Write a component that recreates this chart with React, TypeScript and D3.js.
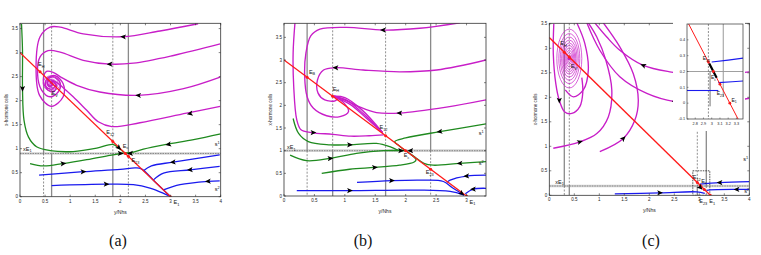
import React from "react";
import * as d3 from "d3";

type Pt = [number, number];
type Arrow = [number, number, number, number];
type Label = { at: Pt; text: string; sub?: string; sup?: string };

// ---------- panel (a) ----------
const aXTicks = [0, 0.5, 1, 1.5, 2, 2.5, 3, 3.5, 4];
const aYTicks = [0, 0.5, 1, 1.5, 2, 2.5, 3, 3.5];
const aMagenta: Pt[][] = [
  [[3.55, 3.6], [2.79, 3.45], [2.06, 3.33], [1.26, 3.39], [0.8, 3.53], [0.6, 3.53], [0.4, 3.33], [0.32, 2.7], [0.39, 2.11], [0.63, 1.88], [0.86, 2.08], [0.86, 2.35], [0.7, 2.52], [0.53, 2.45], [0.53, 2.25], [0.66, 2.18], [0.73, 2.3], [0.66, 2.4], [0.62, 2.36]],
  [[3.99, 3.18], [3.06, 2.94], [2.26, 2.78], [1.79, 2.76], [1.26, 2.84], [0.8, 3.01], [0.56, 3.04], [0.4, 2.91], [0.35, 2.56], [0.43, 2.22], [0.6, 2.08], [0.76, 2.18], [0.8, 2.37], [0.66, 2.5], [0.54, 2.41], [0.58, 2.29], [0.65, 2.33]],
  [[3.99, 2.49], [3.26, 2.25], [2.36, 2.11], [1.59, 2.18], [1.13, 2.32], [0.83, 2.48], [0.66, 2.59], [0.53, 2.61], [0.47, 2.49], [0.5, 2.3], [0.63, 2.24], [0.71, 2.32], [0.65, 2.41], [0.6, 2.36]],
  [[3.99, 1.88], [3.32, 1.74], [2.39, 1.54], [1.83, 1.46], [1.56, 1.56], [1.33, 1.8], [1.06, 2.08], [0.86, 2.27], [0.7, 2.4], [0.6, 2.43], [0.55, 2.36], [0.61, 2.3], [0.66, 2.35]],
];
const aGreen: Pt[][] = [
  [[0.03, 3.6], [0.05, 3.04], [0.05, 2.25], [0.08, 1.59], [0.17, 1.24], [0.33, 1.04], [0.6, 0.96], [1.06, 0.94], [1.53, 1.01], [1.85, 1.09], [1.96, 1.02], [2.08, 0.92]],
  [[4.0, 1.31], [3.46, 1.19], [2.92, 1.09], [2.46, 0.99], [2.23, 0.92], [2.1, 0.91]],
  [[0.2, 0.69], [0.47, 0.64], [0.86, 0.69], [1.33, 0.77], [1.79, 0.86], [2.06, 0.91]],
];
const aBlue: Pt[][] = [
  [[0.38, 0.45], [1.26, 0.52], [2.0, 0.57], [2.3, 0.6], [2.42, 0.58], [2.7, 0.3], [2.98, 0.02]],
  [[3.98, 0.87], [3.05, 0.72], [2.62, 0.64], [2.46, 0.54]],
  [[3.98, 0.63], [3.39, 0.56], [2.86, 0.49], [2.66, 0.35]],
  [[3.98, 0.33], [3.75, 0.32], [3.19, 0.25], [2.86, 0.14]],
  [[0.63, 0.23], [1.72, 0.26], [2.26, 0.25], [2.59, 0.18], [2.86, 0.07], [2.98, 0.01]],
];
const aFocus: Pt = [0.63, 2.36];
const aRings: Pt[] = [[0.05, 0.06], [0.09, 0.09], [0.13, 0.13], [0.17, 0.16]];
const aArrows: Arrow[] = [
  [2.06, 3.33, -1, 0.1], [1.79, 2.76, -1, 0], [2.36, 2.11, -1, 0.05], [3.39, 1.73, -1, -0.2],
  [0.05, 2.25, 0, -1], [2.96, 1.09, -1, -0.2], [0.86, 0.69, 1, 0.1], [1.97, 1.02, 1, -1],
  [2.0, 0.9, 1, 0], [2.2, 0.9, -1, 0],
  [3.05, 0.72, -1, -0.1], [3.39, 0.56, -1, -0.1], [1.26, 0.52, 1, 0.05], [1.72, 0.26, 1, 0], [3.75, 0.32, -1, -0.05],
];
const aThresholds = [0.47, 0.63, 1.85, 2.16];
const aTopSolid = [true, false, false, true];
const aLevel = 0.9;
const aRedEnd = 3;
const aEquilibria: Pt[] = [[0.4, 2.6], [1.85, 1.15], [2.1, 0.9], [2.16, 0.84], [3, 0]];
const aLabels: Label[] = [
  { at: [0.36, 2.72], text: "E", sub: "H" },
  { at: [0.63, 2.12], text: "E", sub: "V" },
  { at: [1.72, 1.3], text: "E", sub: "12" },
  { at: [2.05, 1.02], text: "E", sub: "c" },
  { at: [2.22, 0.72], text: "E", sub: "23" },
  { at: [3.06, -0.15], text: "E", sub: "1" },
  { at: [0.06, 0.96], text: "xE", sub: "1" },
  { at: [3.88, 1.05], text: "s", sup: "1" },
  { at: [3.88, 0.12], text: "s", sup: "2" },
];

// ---------- panel (b) ----------
const bXTicks = [0, 0.5, 1, 1.5, 2, 2.5, 3];
const bYTicks = [0, 0.5, 1, 1.5, 2, 2.5, 3, 3.5];
const bMagenta: Pt[][] = [
  [[2.89, 3.82], [2.23, 3.7], [1.63, 3.66], [1.03, 3.72], [0.59, 3.68], [0.44, 3.53], [0.36, 3.15], [0.34, 2.63], [0.38, 2.19], [0.48, 1.94], [0.7, 1.77], [0.92, 1.75], [1.06, 1.86], [0.98, 2.06], [0.82, 2.2]],
  [[3.32, 3.0], [2.51, 2.78], [1.9, 2.74], [1.3, 2.78], [0.85, 2.83], [0.65, 2.78], [0.55, 2.56], [0.56, 2.27], [0.67, 2.12], [0.84, 2.1], [0.89, 2.17], [0.82, 2.2]],
  [[3.32, 2.12], [2.67, 1.96], [1.9, 1.83], [1.52, 1.84], [1.25, 1.96], [1.03, 2.1], [0.82, 2.2]],
  [[0.18, 3.82], [0.15, 3.15], [0.16, 2.41], [0.21, 1.68], [0.28, 1.46], [0.45, 1.4], [0.8, 1.36], [1.1, 1.32], [1.4, 1.33], [1.64, 1.35]],
  [[0.82, 2.2], [1.05, 2.1], [1.3, 1.82], [1.62, 1.4]],
  [[0.82, 2.2], [1.0, 2.17], [1.28, 1.9], [1.62, 1.4]],
  [[0.82, 2.2], [1.1, 2.01], [1.35, 1.72], [1.62, 1.4]],
];
const bGreen: Pt[][] = [
  [[0.15, 1.71], [0.24, 1.38], [0.4, 1.2], [0.76, 1.13], [1.08, 1.13], [1.52, 1.16], [1.74, 1.09], [1.88, 1.01], [2.0, 1.0]],
  [[0.1, 0.9], [0.37, 0.78], [0.76, 0.83], [1.19, 0.94], [1.63, 1.0], [1.96, 1.0]],
  [[0.62, 0.5], [1.08, 0.59], [1.49, 0.63], [1.9, 0.68], [2.14, 0.75], [2.17, 0.8], [2.08, 0.92]],
  [[3.32, 1.59], [2.56, 1.42], [2.0, 1.28], [1.82, 1.2], [1.9, 1.1], [2.0, 1.0]],
  [[3.32, 0.76], [2.89, 0.72], [2.45, 0.68], [2.3, 0.72], [2.15, 0.86], [2.02, 0.98]],
];
const bBlue: Pt[][] = [
  [[1.2, 0.3], [1.77, 0.34], [2.29, 0.35], [2.62, 0.32], [2.78, 0.17], [2.96, 0.02]],
  [[3.32, 0.46], [3.0, 0.44], [2.73, 0.35], [2.68, 0.3]],
  [[0.21, 0.12], [1.08, 0.12], [2.18, 0.13], [2.73, 0.1], [2.96, 0.02]],
  [[3.32, 0.17], [3.11, 0.15], [2.98, 0.05]],
];
const bArrows: Arrow[] = [
  [1.63, 3.66, -1, 0], [0.85, 2.83, -1, 0.05], [1.9, 1.83, -1, 0], [0.48, 1.4, 1, 0],
  [1.08, 1.13, 1, 0], [0.76, 0.83, 1, 0.1], [1.49, 0.63, 1, 0.05], [2.56, 1.42, -1, -0.2],
  [2.89, 0.72, -1, -0.05], [1.77, 0.34, 1, 0], [3.0, 0.44, -1, -0.05], [1.08, 0.12, 1, 0],
  [3.11, 0.15, -1, -0.05], [2.92, 0.06, 1, -1], [1.92, 1.0, 1, 0], [2.08, 1.0, -1, 0],
];
const bThresholds = [0.38, 0.8, 1.67, 2.41];
const bTopSolid = [true, false, false, true];
const bLevel = 1;
const bRedEnd = 3;
const bEquilibria: Pt[] = [[0.38, 2.62], [0.8, 2.2], [1.67, 1.33], [2, 1], [2.41, 0.59], [3, 0]];
const bLabels: Label[] = [
  { at: [0.41, 2.7], text: "E", sub: "B" },
  { at: [0.8, 2.32], text: "E", sub: "H" },
  { at: [1.57, 1.48], text: "E", sub: "12" },
  { at: [1.97, 0.86], text: "E", sub: "c" },
  { at: [2.33, 0.48], text: "E", sub: "23" },
  { at: [3.05, -0.17], text: "E", sub: "1" },
  { at: [0.05, 1.04], text: "xE", sub: "1" },
  { at: [3.2, 1.34], text: "s", sup: "1" },
  { at: [3.2, 0.68], text: "s", sup: "2" },
];

// ---------- panel (c) ----------
const cXTicks = [0, 0.5, 1, 1.5, 2, 2.5, 3, 3.5, 4];
const cYTicks = [0, 0.5, 1, 1.5, 2, 2.5, 3, 3.5];
const cMagenta: Pt[][] = [
  [[0.09, 3.5], [0.08, 2.89], [0.13, 2.28], [0.2, 1.94], [0.31, 1.7], [0.45, 1.67], [0.61, 1.81], [0.67, 2.1], [0.65, 2.4]],
  [[0.08, 0.96], [0.61, 1.09], [0.95, 1.26], [1.18, 1.6], [1.25, 2.15], [1.13, 2.76], [0.95, 3.23], [0.78, 3.52]],
  [[1.01, 0.89], [1.48, 1.16], [1.71, 1.53], [1.78, 1.94], [1.68, 2.48], [1.41, 3.03], [1.08, 3.52]],
  [[0.91, 3.52], [1.15, 3.23], [1.41, 2.96], [1.88, 2.65], [2.41, 2.52], [3.15, 2.45], [4.0, 2.52]],
  [[0.75, 3.52], [1.01, 2.96], [1.41, 2.42], [1.95, 2.08], [2.51, 1.91], [3.15, 1.87], [4.0, 1.98]],
  [[0.55, 3.52], [0.71, 3.1], [0.78, 2.55], [0.68, 2.15], [0.48, 2.01], [0.32, 2.15]],
];
const cBlue: Pt[][] = [
  [[1.31, 0.03], [2.21, 0.05], [2.95, 0.07], [3.11, 0.04]],
  [[4.0, 0.28], [3.41, 0.26], [3.01, 0.23]],
  [[4.0, 0.12], [3.75, 0.12], [3.21, 0.11], [3.15, 0.1]],
];
const cFocus: Pt = [0.4, 2.79];
const cRings: Pt[] = [[0.03, 0.08], [0.05, 0.12], [0.07, 0.17], [0.09, 0.22], [0.11, 0.27], [0.13, 0.32], [0.155, 0.38], [0.18, 0.44], [0.21, 0.51], [0.25, 0.6]];
const cArrows: Arrow[] = [
  [0.2, 1.94, 0, -1], [0.61, 1.09, 1, 0.3], [1.48, 1.16, 1, 1], [1.88, 2.65, -1, 0.4],
  [2.51, 1.91, -1, 0.2], [2.21, 0.05, 1, 0], [3.41, 0.26, -1, 0], [3.75, 0.12, -1, 0], [3.02, 0.16, 1, -1],
];
const cThresholds = [0.3, 0.4, 2.96, 3.14];
const cTopSolid = [true, false, false, true];
const cLevel = 0.19;
const cRedEnd = 3.22;
const cEquilibria: Pt[] = [[0.3, 2.92], [0.4, 2.82], [2.96, 0.26], [3.02, 0.2], [3.1, 0.12], [3.22, 0]];
const cLabels: Label[] = [
  { at: [0.22, 3.06], text: "E", sub: "H" },
  { at: [0.43, 2.6], text: "E", sub: "V" },
  { at: [2.87, 0.33], text: "E", sub: "12" },
  { at: [3.04, 0.26], text: "E", sub: "c" },
  { at: [3.0, -0.16], text: "E", sub: "23" },
  { at: [3.2, -0.16], text: "E", sub: "1" },
  { at: [0.12, 0.24], text: "xE", sub: "1" },
  { at: [3.88, 0.7], text: "s", sup: "1" },
  { at: [3.9, 0.04], text: "s", sup: "2" },
];
const cZoomBox: Pt[] = [[2.87, 0], [3.21, 0.5]];

// ---------- inset of (c) ----------
const insetXTicks = [2.8, 2.9, 3, 3.1, 3.2, 3.3];
const insetYTicks = [-0.1, 0, 0.1, 0.2, 0.3, 0.4];
const insetBlue: Pt[][] = [
  [[3.0, 0.26], [3.2, 0.272], [3.39, 0.285]],
  [[3.08, 0.13], [3.25, 0.135], [3.39, 0.14]],
  [[2.7, 0.08], [2.9, 0.08], [3.08, 0.08]],
];
const insetBlack: Pt[] = [[2.97, 0.25], [3.06, 0.16]];
const insetEquilibria: Pt[] = [[2.96, 0.26], [3.02, 0.2], [3.1, 0.12], [3.22, 0]];
const insetLabels: Label[] = [
  { at: [2.89, 0.27], text: "E", sub: "12" },
  { at: [2.99, 0.15], text: "E", sub: "c" },
  { at: [3.06, 0.05], text: "E", sub: "23" },
  { at: [3.24, 0.01], text: "E", sub: "1" },
];

const MAGENTA = "#c81ec8";
const GREEN = "#1f8a1f";
const BLUE = "#1a1aee";
const RED = "#ff1a1a";
const FONT = "Liberation Sans, Arial, sans-serif";

const arrowPath = "M3.2,0L-2.6,-2.6L-1.3,0L-2.6,2.6Z";

function LabelText({ l, x, y, size }: { l: Label; x: any; y: any; size: number }) {
  return (
    <text x={x(l.at[0])} y={y(l.at[1])} fontSize={size} fontFamily={FONT} fill="#111">
      {l.text}
      {l.sub && <tspan fontSize={size * 0.7} dy={size * 0.3}>{l.sub}</tspan>}
      {l.sup && <tspan fontSize={size * 0.7} dy={-size * 0.4}>{l.sup}</tspan>}
    </text>
  );
}

function Panel({ cfg }: { cfg: any }) {
  const f = cfg.frame;
  const x = d3.scaleLinear().domain([0, cfg.xMax]).range([f.left, f.right]);
  const y = d3.scaleLinear().domain([0, cfg.yMax]).range([f.bottom, f.top]);
  const line = d3
    .line<Pt>()
    .x((d) => x(d[0]))
    .y((d) => y(d[1]))
    .curve(d3.curveCatmullRom.alpha(0.5));
  const clip = `clip-${cfg.id}`;
  const cx = (f.left + f.right) / 2;
  const cy = (f.top + f.bottom) / 2;

  return (
    <g>
      <defs>
        <clipPath id={clip}>
          <rect x={f.left} y={f.top} width={f.right - f.left} height={f.bottom - f.top} />
        </clipPath>
      </defs>
      <g clipPath={`url(#${clip})`}>
        <line x1={f.left} x2={f.right} y1={y(cfg.level)} y2={y(cfg.level)} stroke="#d4d4d4" strokeWidth={2.6} />
        <line x1={f.left} x2={f.right} y1={y(cfg.level)} y2={y(cfg.level)} stroke="#555" strokeWidth={0.6} strokeDasharray="1.5,1" />
        {cfg.thresholds.map((t: number, i: number) => {
          const solid = { stroke: "#8a8a8a", strokeWidth: 1.3 };
          const dashed = { stroke: "#444", strokeWidth: 0.6, strokeDasharray: "2,1.5" };
          return (
            <g key={i}>
              <line x1={x(t)} x2={x(t)} y1={f.top} y2={y(cfg.level)} {...(cfg.topSolid[i] ? solid : dashed)} />
              <line x1={x(t)} x2={x(t)} y1={y(cfg.level)} y2={f.bottom} {...(cfg.topSolid[i] ? dashed : solid)} />
            </g>
          );
        })}
        {cfg.zoomBox && (
          <rect
            x={x(cfg.zoomBox[0][0])}
            y={y(cfg.zoomBox[1][1])}
            width={x(cfg.zoomBox[1][0]) - x(cfg.zoomBox[0][0])}
            height={y(cfg.zoomBox[0][1]) - y(cfg.zoomBox[1][1])}
            fill="none"
            stroke="#222"
            strokeWidth={0.8}
            strokeDasharray="1.5,1"
          />
        )}
        {cfg.rings.map((r: Pt, i: number) => (
          <ellipse
            key={i}
            cx={x(cfg.focus[0])}
            cy={y(cfg.focus[1])}
            rx={x(cfg.focus[0] + r[0]) - x(cfg.focus[0])}
            ry={y(cfg.focus[1]) - y(cfg.focus[1] + r[1])}
            fill="none"
            stroke={MAGENTA}
            strokeWidth={0.7}
          />
        ))}
        {cfg.focus && <circle cx={x(cfg.focus[0])} cy={y(cfg.focus[1])} r={1.8} fill={MAGENTA} />}
        {cfg.magenta.map((c: Pt[], i: number) => (
          <path key={"m" + i} d={line(c) || ""} fill="none" stroke={MAGENTA} strokeWidth={1.35} />
        ))}
        {cfg.green.map((c: Pt[], i: number) => (
          <path key={"g" + i} d={line(c) || ""} fill="none" stroke={GREEN} strokeWidth={1.3} />
        ))}
        {cfg.blue.map((c: Pt[], i: number) => (
          <path key={"b" + i} d={line(c) || ""} fill="none" stroke={BLUE} strokeWidth={1.3} />
        ))}
        <line x1={x(0)} y1={y(cfg.redEnd)} x2={x(cfg.redEnd)} y2={y(0)} stroke={RED} strokeWidth={1.3} />
        {cfg.equilibria.map((p: Pt, i: number) => (
          <circle key={i} cx={x(p[0])} cy={y(p[1])} r={1.5} fill={RED} />
        ))}
        {cfg.arrows.map(([ax, ay, dx, dy]: Arrow, i: number) => {
          const px = x(ax);
          const py = y(ay);
          const ang = (Math.atan2(y(ay + dy * 0.05) - py, x(ax + dx * 0.05) - px) * 180) / Math.PI;
          return <path key={i} d={arrowPath} transform={`translate(${px},${py}) rotate(${ang})`} fill="#000" />;
        })}
      </g>
      <rect x={f.left} y={f.top} width={f.right - f.left} height={f.bottom - f.top} fill="none" stroke="#333" strokeWidth={0.8} />
      {cfg.xTicks.map((t: number) => (
        <g key={"x" + t}>
          <line x1={x(t)} x2={x(t)} y1={f.bottom} y2={f.bottom - 2} stroke="#333" strokeWidth={0.6} />
          <line x1={x(t)} x2={x(t)} y1={f.top} y2={f.top + 2} stroke="#333" strokeWidth={0.6} />
          <text x={x(t)} y={f.bottom + 6} fontSize={4.5} fontFamily={FONT} textAnchor="middle" fill="#222">
            {String(t)}
          </text>
        </g>
      ))}
      {cfg.yTicks.map((t: number) => (
        <g key={"y" + t}>
          <line x1={f.left} x2={f.left + 2} y1={y(t)} y2={y(t)} stroke="#333" strokeWidth={0.6} />
          <line x1={f.right} x2={f.right - 2} y1={y(t)} y2={y(t)} stroke="#333" strokeWidth={0.6} />
          <text x={f.left - 2} y={y(t) + 1.5} fontSize={4.5} fontFamily={FONT} textAnchor="end" fill="#222">
            {String(t)}
          </text>
        </g>
      ))}
      {cfg.labels.map((l: Label, i: number) => (
        <LabelText key={i} l={l} x={x} y={y} size={5.5} />
      ))}
      <text x={cx} y={f.bottom + 17} fontSize={5} fontFamily={FONT} textAnchor="middle" fill="#222">
        y/Nhs
      </text>
      <text
        transform={`translate(${f.left - 12},${cy}) rotate(-90)`}
        fontSize={4.5}
        fontFamily={FONT}
        textAnchor="middle"
        fill="#222"
      >
        x-hormone cells
      </text>
      <text x={cfg.captionX} y={246} fontSize={16} fontFamily="Liberation Serif, Times New Roman, serif" textAnchor="middle" fill="#111">
        {cfg.caption}
      </text>
    </g>
  );
}

function Inset({ frame, cRedLine }: { frame: any; cRedLine: number }) {
  const x = d3.scaleLinear().domain([2.7, 3.38]).range([frame.left, frame.right]);
  const y = d3.scaleLinear().domain([-0.1, 0.5]).range([frame.bottom, frame.top]);
  const line = d3
    .line<Pt>()
    .x((d) => x(d[0]))
    .y((d) => y(d[1]));
  return (
    <g>
      <defs>
        <clipPath id="clip-inset">
          <rect x={frame.left} y={frame.top} width={frame.right - frame.left} height={frame.bottom - frame.top} />
        </clipPath>
      </defs>
      <rect x={frame.left - 14} y={frame.top - 2} width={frame.right - frame.left + 16} height={frame.bottom - frame.top + 14} fill="#fff" />
      <g clipPath="url(#clip-inset)">
        <line x1={x(2.7)} x2={x(3.38)} y1={y(0.2)} y2={y(0.2)} stroke="#888" strokeWidth={0.8} />
        <line x1={x(2.96)} x2={x(2.96)} y1={frame.top} y2={frame.bottom} stroke="#444" strokeWidth={0.6} strokeDasharray="2,1.5" />
        <line x1={x(2.98)} x2={x(2.98)} y1={y(0.2)} y2={y(-0.02)} stroke="#333" strokeWidth={0.7} />
        <line x1={x(3.14)} x2={x(3.14)} y1={frame.top} y2={y(0.04)} stroke="#999" strokeWidth={1} />
        {insetBlue.map((c, i) => (
          <path key={i} d={line(c) || ""} fill="none" stroke={BLUE} strokeWidth={1.1} />
        ))}
        <line x1={x(cRedLine - 0.5)} y1={y(0.5)} x2={x(cRedLine + 0.1)} y2={y(-0.1)} stroke={RED} strokeWidth={1} />
        <path d={line(insetBlack) || ""} stroke="#000" strokeWidth={2.2} fill="none" />
        {insetEquilibria.map((p, i) => (
          <circle key={i} cx={x(p[0])} cy={y(p[1])} r={1.4} fill={RED} />
        ))}
      </g>
      <rect x={frame.left} y={frame.top} width={frame.right - frame.left} height={frame.bottom - frame.top} fill="none" stroke="#333" strokeWidth={0.7} />
      {insetXTicks.map((t) => (
        <g key={"ix" + t}>
          <line x1={x(t)} x2={x(t)} y1={frame.bottom} y2={frame.bottom - 1.5} stroke="#333" strokeWidth={0.5} />
          <text x={x(t)} y={frame.bottom + 6} fontSize={3.8} fontFamily={FONT} textAnchor="middle" fill="#222">
            {String(t)}
          </text>
        </g>
      ))}
      {insetYTicks.map((t) => (
        <g key={"iy" + t}>
          <line x1={frame.left} x2={frame.left + 1.5} y1={y(t)} y2={y(t)} stroke="#333" strokeWidth={0.5} />
          <text x={frame.left - 2} y={y(t) + 1.3} fontSize={3.8} fontFamily={FONT} textAnchor="end" fill="#222">
            {String(t)}
          </text>
        </g>
      ))}
      {insetLabels.map((l, i) => (
        <LabelText key={i} l={l} x={x} y={y} size={5} />
      ))}
    </g>
  );
}

export default function App() {
  const panels = [
    {
      id: "a", caption: "(a)", captionX: 118,
      frame: { left: 20, right: 220.7, top: 23.3, bottom: 196.7 }, xMax: 4, yMax: 3.61,
      xTicks: aXTicks, yTicks: aYTicks, magenta: aMagenta, green: aGreen, blue: aBlue,
      focus: aFocus, rings: aRings, arrows: aArrows, thresholds: aThresholds, topSolid: aTopSolid,
      level: aLevel, redEnd: aRedEnd, equilibria: aEquilibria, labels: aLabels,
    },
    {
      id: "b", caption: "(b)", captionX: 363,
      frame: { left: 284, right: 486, top: 23.3, bottom: 196 }, xMax: 3.32, yMax: 3.81,
      xTicks: bXTicks, yTicks: bYTicks, magenta: bMagenta, green: bGreen, blue: bBlue,
      focus: null, rings: [], arrows: bArrows, thresholds: bThresholds, topSolid: bTopSolid,
      level: bLevel, redEnd: bRedEnd, equilibria: bEquilibria, labels: bLabels,
    },
    {
      id: "c", caption: "(c)", captionX: 651,
      frame: { left: 549.3, right: 749.3, top: 23.3, bottom: 195.3 }, xMax: 4, yMax: 3.51,
      xTicks: cXTicks, yTicks: cYTicks, magenta: cMagenta, green: [], blue: cBlue,
      focus: cFocus, rings: cRings, arrows: cArrows, thresholds: cThresholds, topSolid: cTopSolid,
      level: cLevel, redEnd: cRedEnd, equilibria: cEquilibria, labels: cLabels, zoomBox: cZoomBox,
    },
  ];
  return (
    <div style={{ position: "absolute", left: 0, top: 0 }}>
      <svg width={761} height={255} style={{ display: "block", background: "#fff" }}>
        {panels.map((p) => (
          <Panel key={p.id} cfg={p} />
        ))}
        <Inset frame={{ left: 687, right: 743, top: 24, bottom: 119 }} cRedLine={cRedEnd} />
      </svg>
    </div>
  );
}
